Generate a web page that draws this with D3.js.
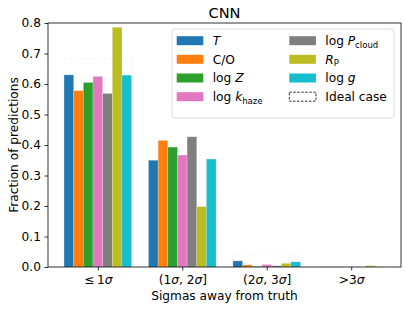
<!DOCTYPE html>
<html>
<head>
<meta charset="utf-8">
<script src="https://cdn.jsdelivr.net/npm/d3@7"></script>
<style>
  body { margin: 0; background: #fff; }
  svg { font-family: "DejaVu Sans", sans-serif; }
</style>
</head>
<body>
<svg id="chart" width="407" height="309"></svg>
<script>
// categories on the x axis (label pieces: [text, style])
const categories = [0, 1, 2, 3];
const categoryLabels = [
  [["≤\u20091", ""], ["σ", "i"]],
  [["(1", ""], ["σ", "i"], [", 2", ""], ["σ", "i"], ["]", ""]],
  [["(2", ""], ["σ", "i"], [", 3", ""], ["σ", "i"], ["]", ""]],
  [[">3", ""], ["σ", "i"]]
];

const seriesNames = ["T", "C/O", "log Z", "log k_haze", "log P_cloud", "R_P", "log g"];
const seriesColors = ["#1f77b4", "#ff7f0e", "#2ca02c", "#e377c2", "#7f7f7f", "#bcbd22", "#17becf"];
const legendLabels = [
  [["T", "i"]],
  [["C/O", ""]],
  [["log ", ""], ["Z", "i"]],
  [["log ", ""], ["k", "i"], ["haze", "sub"]],
  [["log ", ""], ["P", "i"], ["cloud", "sub"]],
  [["R", "i"], ["P", "sub"]],
  [["log ", ""], ["g", "i"]]
];

// fraction of predictions per category
const valuesT      = [0.630, 0.350, 0.020, 0.000];
const valuesCO     = [0.578, 0.415, 0.007, 0.000];
const valuesLogZ   = [0.605, 0.393, 0.002, 0.000];
const valuesLogK   = [0.625, 0.367, 0.008, 0.000];
const valuesLogP   = [0.569, 0.427, 0.004, 0.000];
const valuesRP     = [0.786, 0.198, 0.012, 0.004];
const valuesLogG   = [0.629, 0.354, 0.017, 0.000];
const idealCase    = [0.6827, 0.2718, 0.0428, 0.0027];

const allValues = [valuesT, valuesCO, valuesLogZ, valuesLogK, valuesLogP, valuesRP, valuesLogG];
const yTicks = [0, 0.1, 0.2, 0.3, 0.4, 0.5, 0.6, 0.7, 0.8];

const svg = d3.select("#chart");
const margin = {left: 48, right: 6, top: 23, bottom: 42};
const W = 407, H = 309;

const x = d3.scaleLinear().domain([-0.59, 3.59]).range([margin.left, W - margin.right]);
const y = d3.scaleLinear().domain([0, 0.8]).range([H - margin.bottom, margin.top]);
const offset = d3.scaleBand().domain(seriesNames).range([-0.4, 0.4]);

function addParts(sel, parts, size) {
  parts.forEach(p => {
    const t = sel.append("tspan").text(p[0]);
    if (p[1] === "i") t.attr("font-style", "italic");
    if (p[1] === "sub") t.attr("font-size", size * 0.7).attr("dy", size * 0.22);
  });
}

// ideal case boxes (faint, behind)
svg.append("g").selectAll("rect").data(categories).join("rect")
  .attr("x", d => x(d - 0.4))
  .attr("width", d => x(d + 0.4) - x(d - 0.4))
  .attr("y", (d, i) => y(idealCase[i]))
  .attr("height", (d, i) => y(0) - y(idealCase[i]))
  .attr("fill", "none")
  .attr("stroke", "#000")
  .attr("stroke-opacity", 0.045)
  .attr("stroke-dasharray", "3,2")
  .attr("stroke-width", 1);

// bars
seriesNames.forEach((name, s) => {
  svg.append("g").selectAll("rect").data(categories).join("rect")
    .attr("x", d => x(d + offset(name)))
    .attr("width", d => x(d + offset(name) + offset.bandwidth()) - x(d + offset(name)))
    .attr("y", (d, i) => y(allValues[s][i]))
    .attr("height", (d, i) => y(0) - y(allValues[s][i]))
    .attr("fill", seriesColors[s])
    .attr("stroke", "#fff")
    .attr("stroke-opacity", 0.35)
    .attr("stroke-width", 0.6);
});

// axes
const fs = 12.2;
const yAxis = svg.append("g").attr("transform", `translate(${margin.left},0)`)
  .call(d3.axisLeft(y).tickValues(yTicks).tickFormat(d3.format(".1f")).tickSizeOuter(0).tickSize(3.5).tickPadding(3.5));
yAxis.selectAll("text").attr("font-size", fs).attr("font-family", "DejaVu Sans").attr("fill", "#000");
yAxis.select(".domain").remove();

const xAxis = svg.append("g").attr("transform", `translate(0,${y(0)})`)
  .call(d3.axisBottom(x).tickValues(categories).tickFormat("").tickSizeOuter(0).tickSize(3.5));
xAxis.select(".domain").remove();
xAxis.selectAll(".tick").each(function(d, i) {
  const t = d3.select(this).append("text")
    .attr("y", 17).attr("text-anchor", "middle")
    .attr("font-size", fs).attr("fill", "#000").attr("font-family", "DejaVu Sans");
  addParts(t, categoryLabels[i], fs);
});
svg.selectAll(".tick line").attr("stroke", "#000").attr("stroke-width", 0.8);

// frame
svg.append("rect")
  .attr("x", margin.left).attr("y", margin.top)
  .attr("width", W - margin.right - margin.left)
  .attr("height", H - margin.bottom - margin.top)
  .attr("fill", "none").attr("stroke", "#000").attr("stroke-width", 0.8);

// labels
svg.append("text").attr("x", (margin.left + W - margin.right) / 2).attr("y", 18)
  .attr("text-anchor", "middle").attr("font-size", 14.6).text("CNN");
svg.append("text").attr("x", (margin.left + W - margin.right) / 2).attr("y", 300)
  .attr("text-anchor", "middle").attr("font-size", fs).text("Sigmas away from truth");
svg.append("text").attr("transform", `translate(18,${(margin.top + H - margin.bottom) / 2}) rotate(-90)`)
  .attr("text-anchor", "middle").attr("font-size", fs).text("Fraction of predictions");

// legend
const lg = svg.append("g");
lg.append("rect").attr("x", 172).attr("y", 29).attr("width", 222).attr("height", 89)
  .attr("rx", 3).attr("fill", "#fff").attr("fill-opacity", 0.8)
  .attr("stroke", "#d6d6d6").attr("stroke-width", 0.8);
const colX = [176.7, 289.3];
const rowY = [40.7, 59.3, 78, 96.7];
const entries = seriesNames.map((n, i) => ({label: legendLabels[i], color: seriesColors[i]}));
entries.push({label: [["Ideal case", ""]], color: null});
entries.forEach((e, i) => {
  const c = Math.floor(i / 4), r = i % 4;
  const rect = lg.append("rect").attr("x", colX[c]).attr("y", rowY[r] - 4.5)
    .attr("width", 26.6).attr("height", 9);
  if (e.color) rect.attr("fill", e.color);
  else rect.attr("fill", "none").attr("stroke", "#000").attr("stroke-width", 0.8).attr("stroke-dasharray", "2.5,1.5");
  const t = lg.append("text").attr("x", colX[c] + 36).attr("y", rowY[r] + 4.4)
    .attr("font-size", fs).attr("fill", "#000");
  addParts(t, e.label, fs);
});
</script>
</body>
</html>
